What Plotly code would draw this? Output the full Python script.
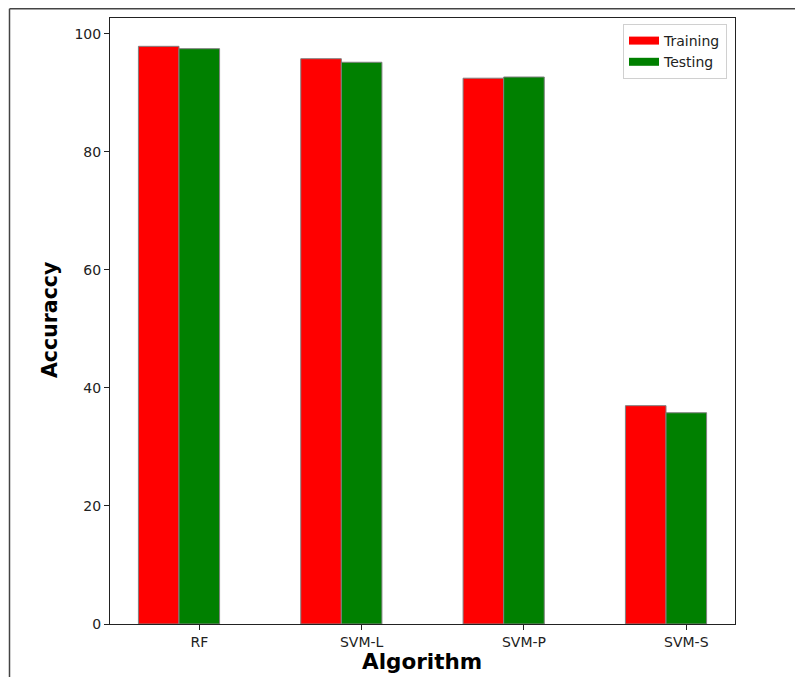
import plotly.graph_objects as go

categories = ["RF", "SVM-L", "SVM-P", "SVM-S"]
training = [97.9, 95.8, 92.5, 37.0]
testing = [97.5, 95.2, 92.7, 35.8]
yticks = [0, 20, 40, 60, 80, 100]

bw = 0.25
pos = list(range(len(categories)))
x_train = [p for p in pos]
x_test = [p + bw for p in pos]

fig = go.Figure()
fig.add_trace(go.Bar(x=x_train, y=training, width=bw, name="Training", showlegend=False,
                     marker=dict(color="red", line=dict(color="#808080", width=1))))
fig.add_trace(go.Bar(x=x_test, y=testing, width=bw, name="Testing", showlegend=False,
                     marker=dict(color="#008000", line=dict(color="#808080", width=1))))
# legend swatches (wide rectangles like the reference)
fig.add_trace(go.Scatter(x=[None], y=[None], mode="lines", name="Training",
                         line=dict(color="red", width=8)))
fig.add_trace(go.Scatter(x=[None], y=[None], mode="lines", name="Testing",
                         line=dict(color="#008000", width=8)))

OFF = 8  # page body offset
W, H = 803 - OFF, 677 - OFF
L, R, T, B = 110 - OFF, 735 - OFF, 18 - OFF, 624 - OFF
pw, ph = R - L, B - T

def px(x):
    return (x - OFF - L) / pw

def py(y):
    return (B - (y - OFF)) / ph

fig.update_layout(
    width=W, height=H,
    margin=dict(l=L, r=W - R, t=T, b=H - B),
    plot_bgcolor="white", paper_bgcolor="white",
    font=dict(family="DejaVu Sans", size=14, color="#222"),
    showlegend=True,
    barmode="overlay",
    legend=dict(x=px(727), y=py(24), xanchor="right", yanchor="top",
                bordercolor="#d0d0d0", borderwidth=1, bgcolor="white",
                font=dict(size=14, color="#222"), traceorder="normal",
                itemwidth=30, tracegroupgap=0),
    xaxis=dict(range=[-0.3, 3.55], tickvals=[p + bw for p in pos], ticktext=categories,
               showgrid=False, zeroline=False, showline=True, linecolor="#222", linewidth=1,
               mirror=True, ticks="outside", ticklen=5, tickcolor="#222"),
    yaxis=dict(range=[0, 102.7], tickvals=yticks, showgrid=False, zeroline=False,
               showline=True, linecolor="#222", linewidth=1, mirror=True,
               ticks="outside", ticklen=5, tickcolor="#222"),
    annotations=[
        dict(text="<b>Accuraccy</b>", x=px(50), y=py(320), xref="paper", yref="paper",
             textangle=-90, showarrow=False, font=dict(size=20.5, color="black"),
             xanchor="center", yanchor="middle"),
        dict(text="<b>Algorithm</b>", x=px(422), y=py(661), xref="paper", yref="paper",
             showarrow=False, font=dict(size=21.5, color="black"),
             xanchor="center", yanchor="middle"),
    ],
    shapes=[
        dict(type="line", xref="paper", yref="paper", x0=px(9.5), x1=px(9.5),
             y0=py(8.8), y1=py(700), line=dict(color="#444", width=1.5)),
        dict(type="line", xref="paper", yref="paper", x0=px(9.5), x1=px(820),
             y0=py(8.8), y1=py(8.8), line=dict(color="#444", width=1.5)),
    ],
)

fig.write_html("out.html")
